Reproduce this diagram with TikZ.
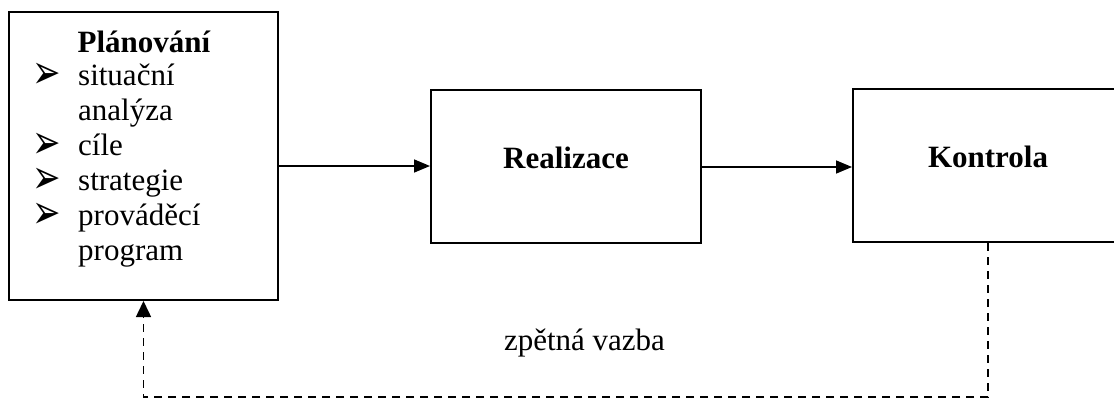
\documentclass[tikz,border=0pt]{standalone}
\usepackage{fontspec}
\setmainfont{Liberation Serif}
\newfontfamily\dingfont{DejaVu Sans}
\usetikzlibrary{arrows.meta}
\tikzset{
  box/.style={draw, line width=2pt, rectangle, inner sep=0pt},
  txt/.style={inner sep=0pt, font=\fontsize{31}{35}\selectfont},
  bold/.style={txt, font=\fontsize{31}{35}\selectfont\bfseries},
  bul/.style={inner sep=0pt, text height=18pt, text depth=0pt, font=\dingfont\fontsize{34}{34}\selectfont},
  flow/.style={line width=1.6pt, -{Triangle[length=16pt,width=13pt]}},
  fb/.style={line width=1.5pt, dash pattern=on 8pt off 6pt, -{Triangle[length=16pt,width=15pt]}}
}
\newcommand{\arrowbullet}{\scalebox{1}[1.4]{➢}}
\begin{document}
\begin{tikzpicture}[x=1pt, y=-1pt]
\useasboundingbox (0,0) rectangle (1114,399);

% the three stages
\node[box, minimum width=269pt, minimum height=288pt] (plan) at (143.5,156) {};
\node[box, minimum width=270pt, minimum height=153pt] (real) at (566,166.5) {};
\node[box, minimum width=270pt, minimum height=153pt] (kon) at (988,165.5) {};

% planning contents
\node[bold, anchor=base] (ttl) at (144,52) {Plánování};
\node[bul, anchor=base west] (b1) at (32,88) {\arrowbullet};
\node[txt, anchor=base west] (i1) at (78,85) {situační};
\node[txt, anchor=base west] (i1b) at (78,120) {analýza};
\node[bul, anchor=base west] (b2) at (32,158) {\arrowbullet};
\node[txt, anchor=base west] (i2) at (78,155) {cíle};
\node[bul, anchor=base west] (b3) at (32,193) {\arrowbullet};
\node[txt, anchor=base west] (i3) at (78,190) {strategie};
\node[bul, anchor=base west] (b4) at (32,228) {\arrowbullet};
\node[txt, anchor=base west] (i4) at (78,225) {prováděcí};
\node[txt, anchor=base west] (i4b) at (78,260) {program};

\node[bold, anchor=base] (realt) at (566,168) {Realizace};
\node[bold, anchor=base] (kont) at (988,167) {Kontrola};

% forward flow
\draw[flow] (plan.east |- 0,166) -- (real.west |- 0,166);
\draw[flow] (real.east |- 0,167) -- (kon.west |- 0,167);

% feedback loop
\coordinate (low) at (0,397);
\draw[fb] (kon.south) -- (kon.south |- low) -| (plan.south);
\node[txt, anchor=base] (fbl) at (584.5,350) {zpětná vazba};
\end{tikzpicture}
\end{document}
